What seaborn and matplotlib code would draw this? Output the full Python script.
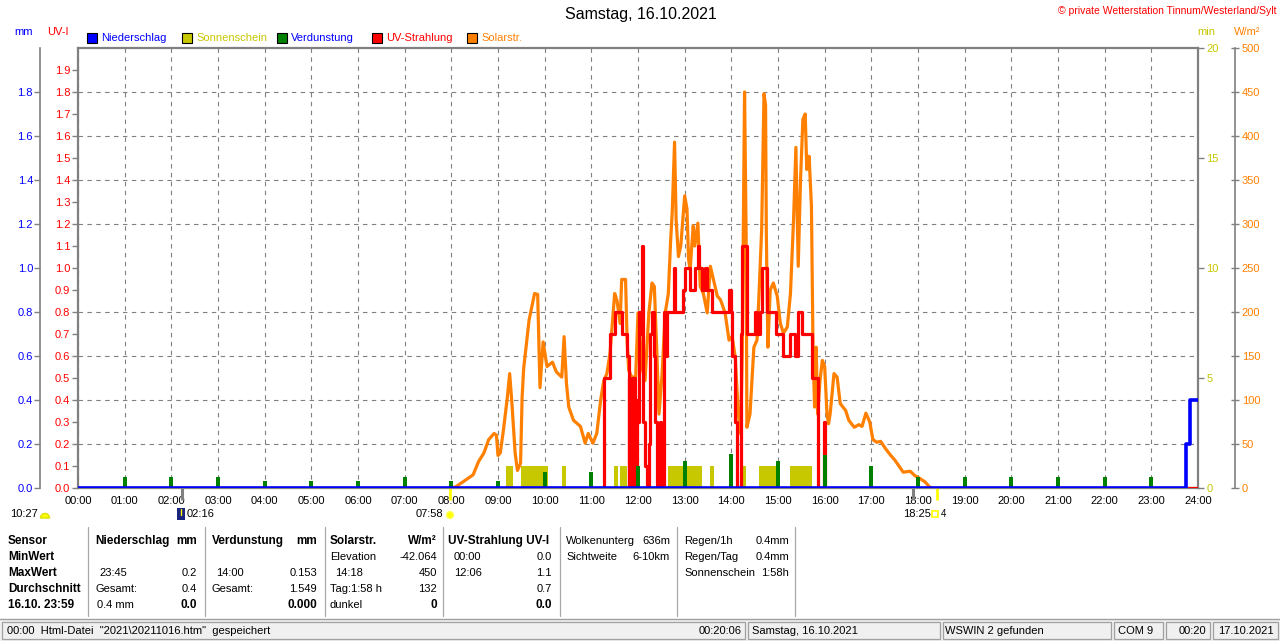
import matplotlib
matplotlib.use("Agg")
import matplotlib.pyplot as plt
import seaborn as sns
from matplotlib.patches import Rectangle

sns.set_theme(style="white")
plt.rcParams['font.family'] = ['Liberation Sans', 'DejaVu Sans']


def hrs(t):
    h, m = t.split(":")
    return int(h) + int(m) / 60


# ---- Solarstrahlung W/m2 ----
solar_t = ["07:58", "08:05", "08:15", "08:28", "08:35", "08:42", "08:48", "08:55", "08:58", "09:00",
           "09:03", "09:07", "09:12", "09:15", "09:18", "09:22", "09:25", "09:29", "09:31", "09:33",
           "09:40", "09:47", "09:51", "09:54", "09:58", "10:03", "10:10", "10:15", "10:22", "10:25",
           "10:28", "10:31", "10:37", "10:46", "10:52", "10:56", "11:02", "11:07", "11:12", "11:16",
           "11:20", "11:24", "11:28", "11:30", "11:33", "11:37", "11:39", "11:44", "11:46", "11:48",
           "11:52", "11:57", "12:00", "12:03", "12:05", "12:09", "12:14", "12:18", "12:21", "12:24",
           "12:27", "12:31", "12:35", "12:39", "12:42", "12:44", "12:47", "12:49", "12:52", "12:55",
           "13:00", "13:03", "13:05", "13:07", "13:11", "13:13", "13:17", "13:20", "13:24", "13:29",
           "13:33", "13:37", "13:42", "13:46", "13:52", "13:57", "14:01", "14:05", "14:09", "14:12",
           "14:14", "14:17", "14:19", "14:20", "14:24", "14:29", "14:33", "14:36", "14:39", "14:42",
           "14:44", "14:45", "14:47", "14:50", "14:54", "14:59", "15:03", "15:07", "15:12", "15:16",
           "15:20", "15:23", "15:26", "15:29", "15:32", "15:35", "15:37", "15:40", "15:43", "15:45",
           "15:47", "15:49", "15:51", "15:54", "15:57", "16:00", "16:03", "16:05", "16:07", "16:12",
           "16:16", "16:20", "16:27", "16:31", "16:38", "16:44", "16:48", "16:53", "16:58", "17:02",
           "17:07", "17:12", "17:18", "17:25", "17:30", "17:41", "17:50", "17:56", "18:02", "18:09",
           "18:15", "18:20"]
solar_w = [0, 1, 7, 15, 30, 40, 55, 62, 60, 37,
           40, 66, 103, 130, 95, 40, 20, 28, 103, 136,
           191, 221, 220, 114, 166, 138, 143, 132, 126, 172,
           119, 92, 77, 70, 51, 62, 51, 62, 100, 122,
           130, 153, 199, 221, 213, 187, 237, 237, 168, 134,
           126, 126, 199, 168, 138, 122, 199, 233, 229, 160,
           84, 130, 199, 221, 282, 313, 393, 305, 263, 275,
           332, 317, 260, 248, 298, 275, 301, 229, 221, 199,
           252, 237, 218, 214, 199, 168, 172, 149, 84, 62,
           153, 450, 290, 69, 84, 160, 168, 229, 294, 448,
           435, 290, 160, 225, 233, 218, 187, 176, 183, 221,
           305, 387, 252, 351, 419, 425, 362, 377, 320, 160,
           92, 160, 84, 122, 145, 138, 84, 73, 84, 130,
           126, 96, 88, 77, 69, 72, 70, 85, 75, 55,
           52, 53, 45, 37, 32, 18, 19, 14, 11, 7,
           1, 0]

# ---- UV-Strahlung UV-I (stufig) ----
uv_t = ["00:00", "11:16", "11:24", "11:30", "11:40", "11:46", "11:48", "11:49", "11:50", "11:51",
        "11:52", "11:53", "11:54", "11:55", "11:56", "11:57", "11:58", "11:59", "12:01", "12:03",
        "12:05", "12:07", "12:09", "12:11", "12:14", "12:16", "12:18", "12:20", "12:22", "12:24",
        "12:28", "12:30", "12:33", "12:35", "12:37", "12:46", "12:48", "12:58", "13:01", "13:07",
        "13:13", "13:17", "13:19", "13:22", "13:26", "13:29", "13:35", "13:57", "13:59", "14:01",
        "14:05", "14:07", "14:12", "14:14", "14:20", "14:31", "14:33", "14:37", "14:39", "14:46",
        "14:57", "15:07", "15:16", "15:22", "15:26", "15:31", "15:44", "15:52", "15:59", "16:01",
        "24:00"]
uv_v = [0.0, 0.5, 0.7, 0.8, 0.7, 0.6, 0.0, 0.5, 0.0, 0.4,
        0.0, 0.5, 0.1, 0.5, 0.0, 0.4, 0.0, 0.3, 0.8, 0.7,
        1.1, 0.3, 0.1, 0.0, 0.2, 0.7, 0.8, 0.6, 0.3, 0.0,
        0.3, 0.0, 0.8, 0.6, 0.8, 1.0, 0.8, 0.9, 1.0, 0.9,
        1.0, 1.1, 1.0, 0.9, 1.0, 0.9, 0.8, 0.9, 0.8, 0.6,
        0.3, 0.0, 0.7, 1.1, 0.7, 0.8, 0.7, 0.8, 1.0, 0.8,
        0.7, 0.6, 0.7, 0.6, 0.8, 0.7, 0.5, 0.0, 0.3, 0.0,
        0.0]

# ---- Niederschlag mm (Summe) ----
rain_t = ["00:00", "23:44", "23:50", "24:00"]
rain_mm = [0.0, 0.2, 0.4, 0.4]

# ---- Verdunstung mm je Stunde ----
evap_h = list(range(1, 24))
evap_mm = [0.05, 0.05, 0.05, 0.03, 0.03, 0.03, 0.05, 0.03, 0.03, 0.075, 0.075, 0.10,
           0.125, 0.153, 0.125, 0.148, 0.10, 0.05, 0.05, 0.05, 0.05, 0.05, 0.05]

# ---- Sonnenschein (min) Intervalle ----
sun_start = ["09:10", "09:30", "10:22", "11:29", "11:37", "12:39", "13:33", "14:14", "14:36", "15:15"]
sun_end = ["09:19", "10:04", "10:27", "11:34", "11:46", "13:22", "13:38", "14:19", "14:58", "15:44"]
sun_min = [1, 1, 1, 1, 1, 1, 1, 1, 1, 1]

# events under the time axis
ev_gray = ["02:14", "17:53"]
ev_yellow = ["07:58", "18:25"]

hour_labels = ["%02d:00" % h for h in range(25)]

BLUE, OLIVE, GREEN, RED, ORANGE = "#0000ff", "#c8c800", "#008000", "#ff0000", "#ff8000"
GRAY = "#808080"

fig = plt.figure(figsize=(12.8, 6.41), dpi=100)
fig.patch.set_facecolor("white")
L, R, T, B = 78, 1198, 48, 488
rect = [L / 1280, 1 - B / 641, (R - L) / 1280, (B - T) / 641]

ax_min = fig.add_axes(rect)
ax_w = fig.add_axes(rect, sharex=ax_min)
ax_uv = fig.add_axes(rect, sharex=ax_min)
ax_mm = fig.add_axes(rect, sharex=ax_min)

# base axes: frame, grid, sunshine, right "min" scale
ax_min.set_facecolor("white")
ax_min.set_xlim(0, 24)
ax_min.set_ylim(0, 20)
ax_min.set_xticks(range(25))
ax_min.set_xticklabels(hour_labels, fontsize=8, color="black")
ax_min.tick_params(axis="x", length=0, pad=6)
ax_min.yaxis.tick_right()
ax_min.set_yticks(range(0, 21, 5))
ax_min.set_yticklabels([str(v) for v in range(0, 21, 5)], fontsize=8, color=OLIVE)
ax_min.set_yticks(range(0, 21, 2), minor=True)
ax_min.tick_params(axis="y", which="major", right=True, length=4, width=1, color=GRAY, pad=2)
ax_min.tick_params(axis="y", which="minor", length=0)
ax_min.grid(True, which="minor", axis="y", color=GRAY, linestyle=(0, (4, 4)), lw=0.8)
ax_min.grid(True, which="major", axis="x", color=GRAY, linestyle=(0, (4, 4)), lw=0.8)
for s in ax_min.spines.values():
    s.set_visible(True)
    s.set_color(GRAY)
    s.set_linewidth(1.6)
ax_min.set_axisbelow(True)

starts = [hrs(t) for t in sun_start]
widths = [hrs(e) - hrs(s) for s, e in zip(sun_start, sun_end)]
ax_min.bar(starts, sun_min, width=widths, align="edge", color=OLIVE, linewidth=0, zorder=2)

for a in (ax_w, ax_uv, ax_mm):
    a.patch.set_visible(False)
    for s in a.spines.values():
        s.set_visible(False)
    a.tick_params(axis="x", which="both", length=0, labelbottom=False)
    a.grid(False)

# W/m2 scale on the far right
ax_w.set_ylim(0, 500)
ax_w.yaxis.tick_right()
ax_w.spines["right"].set_visible(True)
ax_w.spines["right"].set_position(("outward", 26.6))
ax_w.spines["right"].set_color(GRAY)
ax_w.spines["right"].set_linewidth(1.2)
ax_w.set_yticks(range(0, 501, 50))
ax_w.set_yticklabels([str(v) for v in range(0, 501, 50)], fontsize=8, color=ORANGE)
ax_w.tick_params(axis="y", direction="inout", length=6, width=1, color=GRAY, pad=2)
sns.lineplot(x=[hrs(t) for t in solar_t], y=solar_w, ax=ax_w, color=ORANGE, lw=2.3,
             estimator=None, legend=False)
ax_w.set_xlabel("")
ax_w.set_ylabel("")

# UV-I scale on the left
ax_uv.set_ylim(0, 2)
uv_ticks = [i / 10 for i in range(20)]
ax_uv.set_yticks(uv_ticks)
ax_uv.set_yticklabels(["%.1f" % v for v in uv_ticks], fontsize=8, color=RED)
ax_uv.tick_params(axis="y", left=True, length=4.5, width=1, color=GRAY, pad=1)
sns.lineplot(x=[hrs(t) for t in uv_t], y=uv_v, ax=ax_uv, color=RED, lw=2.3,
             drawstyle="steps-post", estimator=None, legend=False)
ax_uv.set_xlabel("")
ax_uv.set_ylabel("")

# mm scale further left: Verdunstung + Niederschlag
ax_mm.set_ylim(0, 2)
mm_ticks = [i / 5 for i in range(10)]
ax_mm.spines["left"].set_visible(True)
ax_mm.spines["left"].set_position(("outward", 27.4))
ax_mm.spines["left"].set_color(GRAY)
ax_mm.spines["left"].set_linewidth(1.2)
ax_mm.set_yticks(mm_ticks)
ax_mm.set_yticklabels(["%.1f" % v for v in mm_ticks], fontsize=8, color=BLUE)
ax_mm.tick_params(axis="y", left=True, length=4, width=1, color=GRAY, pad=1)
ax_mm.bar(evap_h, evap_mm, width=0.08, color=GREEN, linewidth=0)
sns.lineplot(x=[hrs(t) for t in rain_t], y=rain_mm, ax=ax_mm, color=BLUE, lw=2.6,
             drawstyle="steps-post", estimator=None, legend=False)
ax_mm.set_xlabel("")
ax_mm.set_ylabel("")

# event marks below the time axis
xt = ax_min.get_xaxis_transform()
ax_min.vlines([hrs(t) for t in ev_gray], -0.028, 0.0, transform=xt, colors=GRAY, lw=2.2, clip_on=False)
ax_min.vlines([hrs(t) for t in ev_yellow], -0.028, 0.004, transform=xt, colors="#ffff00", lw=2.0, clip_on=False)

# ---- overlay in pixel coordinates: texts, legend, table, status bar ----
ax_o = fig.add_axes([0, 0, 1, 1])
ax_o.set_xlim(0, 1280)
ax_o.set_ylim(641, 0)
ax_o.axis("off")
ax_o.patch.set_visible(False)


def put(x, y, s, ha="left", bold=False, size=8, color="black"):
    ax_o.text(x, y, s, ha=ha, va="center", fontsize=size, color=color,
              fontweight="bold" if bold else "normal")


put(641, 15, "Samstag, 16.10.2021", ha="center", size=11.5)
put(1276, 11, "© private Wetterstation Tinnum/Westerland/Sylt", ha="right", size=7.5, color=RED)

put(14, 32, "mm", color=BLUE)
put(47, 32, "UV-I", color=RED)
put(1197, 32, "min", color=OLIVE)
put(1234, 32, "W/m²", color=ORANGE)

legend_items = [("Niederschlag", BLUE, BLUE), ("Sonnenschein", OLIVE, OLIVE),
                ("Verdunstung", GREEN, BLUE), ("UV-Strahlung", RED, RED), ("Solarstr.", ORANGE, ORANGE)]
for i, (name, box, txt) in enumerate(legend_items):
    x0 = 87 + i * 95
    ax_o.add_patch(Rectangle((x0, 33), 10, 10, facecolor=box, edgecolor="black", lw=0.8))
    put(x0 + 14, 38, name, color=txt)

# labels under the time axis
put(10, 514, "10:27")
ax_o.add_patch(matplotlib.patches.Wedge((45, 518), 4.5, 180, 360, facecolor="#ffff00", edgecolor="#e0e000"))
ax_o.add_patch(Rectangle((177, 508), 8, 12, facecolor="#1a237e", edgecolor="none"))
ax_o.plot([181, 181], [509, 515], color="#ffff00", lw=1)
put(187, 514, "02:16")
put(416, 514, "07:58")
ax_o.add_patch(matplotlib.patches.Circle((450, 515), 3.5, facecolor="#ffff00", edgecolor="#ffff60"))
put(903, 514, "18:25")
ax_o.add_patch(Rectangle((932, 511), 6, 6, facecolor="white", edgecolor="#ffff00", lw=1.2))
put(941, 514, "4", size=7)

# table
rows_y = [541, 557, 573, 589, 605]
for y, s in zip(rows_y, ["Sensor", "MinWert", "MaxWert", "Durchschnitt", "16.10. 23:59"]):
    put(8, y, s, bold=True, size=8.5)
for x in [88, 205, 325, 443, 560, 677, 795]:
    ax_o.plot([x, x], [527, 616], color="#a8a8a8", lw=0.9)

put(95, rows_y[0], "Niederschlag", bold=True, size=8.5)
put(197, rows_y[0], "mm", ha="right", bold=True, size=8.5)
put(99, rows_y[2], "23:45"); put(197, rows_y[2], "0.2", ha="right")
put(95, rows_y[3], "Gesamt:"); put(197, rows_y[3], "0.4", ha="right")
put(97, rows_y[4], "0.4 mm"); put(197, rows_y[4], "0.0", ha="right", bold=True, size=8.5)

put(212, rows_y[0], "Verdunstung", bold=True, size=8.5)
put(317, rows_y[0], "mm", ha="right", bold=True, size=8.5)
put(216, rows_y[2], "14:00"); put(317, rows_y[2], "0.153", ha="right")
put(212, rows_y[3], "Gesamt:"); put(317, rows_y[3], "1.549", ha="right")
put(317, rows_y[4], "0.000", ha="right", bold=True, size=8.5)

put(330, rows_y[0], "Solarstr.", bold=True, size=8.5)
put(437, rows_y[0], "W/m²", ha="right", bold=True, size=8.5)
put(330, rows_y[1], "Elevation"); put(437, rows_y[1], "-42.064", ha="right")
put(335, rows_y[2], "14:18"); put(437, rows_y[2], "450", ha="right")
put(330, rows_y[3], "Tag:1:58 h"); put(437, rows_y[3], "132", ha="right")
put(330, rows_y[4], "dunkel"); put(437, rows_y[4], "0", ha="right", bold=True, size=8.5)

put(448, rows_y[0], "UV-Strahlung UV-I", bold=True, size=8.5)
put(454, rows_y[1], "00:00"); put(552, rows_y[1], "0.0", ha="right")
put(454, rows_y[2], "12:06"); put(552, rows_y[2], "1.1", ha="right")
put(552, rows_y[3], "0.7", ha="right")
put(552, rows_y[4], "0.0", ha="right", bold=True, size=8.5)

put(566, rows_y[0], "Wolkenunterg"); put(670, rows_y[0], "636m", ha="right")
put(566, rows_y[1], "Sichtweite"); put(670, rows_y[1], "6-10km", ha="right")

put(684, rows_y[0], "Regen/1h"); put(789, rows_y[0], "0.4mm", ha="right")
put(684, rows_y[1], "Regen/Tag"); put(789, rows_y[1], "0.4mm", ha="right")
put(684, rows_y[2], "Sonnenschein"); put(789, rows_y[2], "1:58h", ha="right")

# status bar
ax_o.add_patch(Rectangle((0, 619), 1280, 22, facecolor="#f0f0f0", edgecolor="none"))
ax_o.plot([0, 1280], [619, 619], color="#a0a0a0", lw=1)
panels = [(2, 745), (748, 940), (943, 1111), (1114, 1163), (1166, 1210), (1213, 1278)]
for x0, x1 in panels:
    ax_o.add_patch(Rectangle((x0, 622), x1 - x0, 17, facecolor="none", edgecolor="#a0a0a0", lw=0.9))
put(7, 631, '00:00  Html-Datei  "2021\\20211016.htm"  gespeichert')
put(742, 631, "00:20:06", ha="right")
put(752, 631, "Samstag, 16.10.2021")
put(945, 631, "WSWIN 2 gefunden")
put(1118, 631, "COM 9")
put(1179, 631, "00:20")
put(1218, 631, "17.10.2021")

fig.savefig("out.png", dpi=100, facecolor="white")
